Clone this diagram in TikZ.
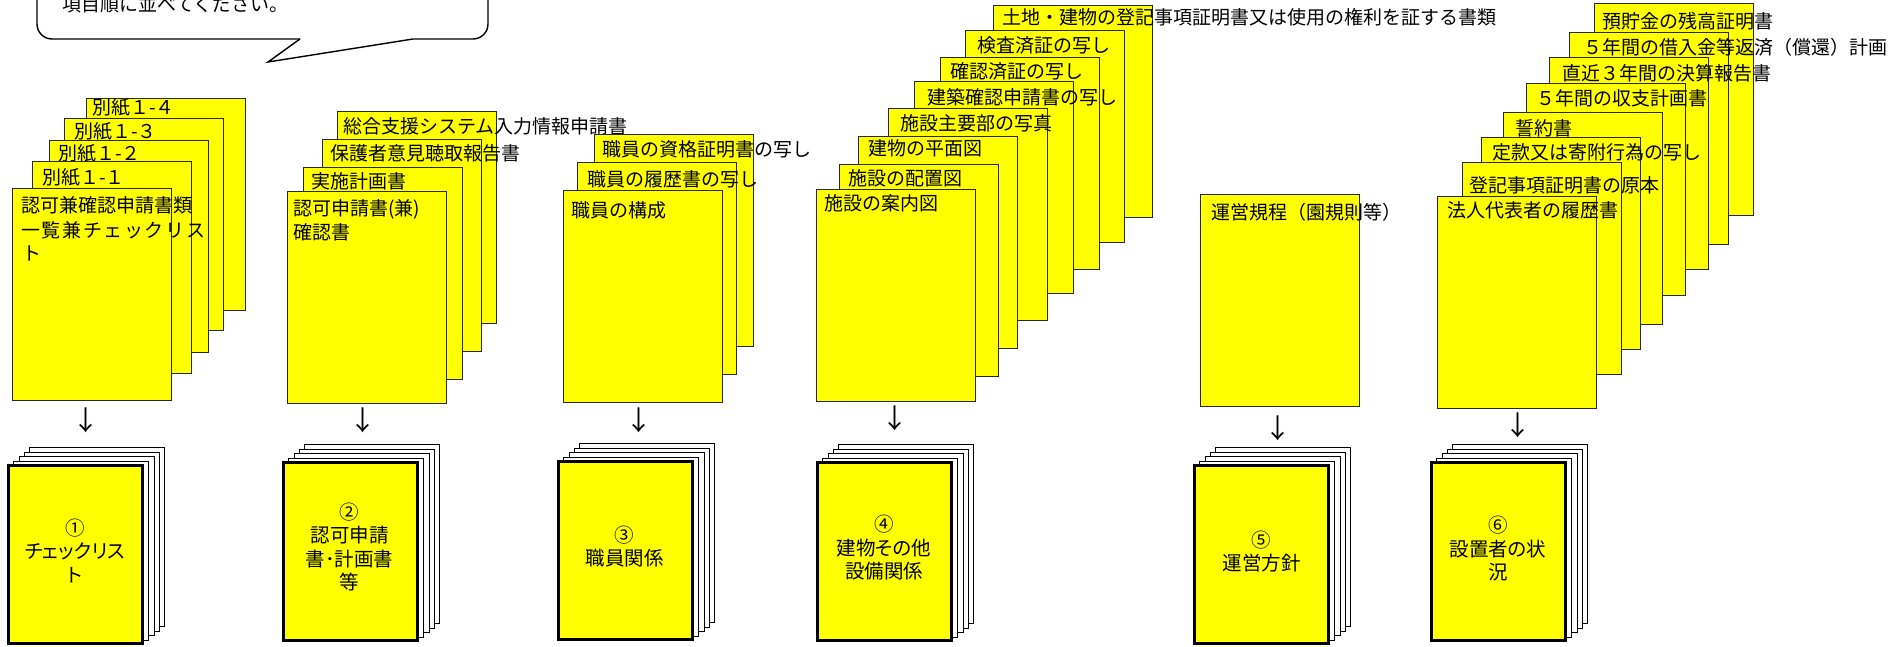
\documentclass[tikz,border=0pt]{standalone}
\usepackage{fontspec}
\newfontfamily\jp{Noto Sans CJK JP}
\newfontfamily\jpp{Noto Sans CJK JP}[RawFeature=+palt]
\definecolor{docyellow}{RGB}{255,255,0}
\definecolor{edgegray}{RGB}{40,40,40}
\newcommand\ydoc[6]{%
  \node[ybox] (#1) at (#2,#3) {};
  \node[lbl] (#1-t) at (#4,#5) {#6};}
\newcommand\stackdoc[6]{%
  \foreach \k in {4,3,2,1}{\node[backpage] (#1-p\k) at ({#2+5.3*\k},{#3-4.5*\k}) {};}
  \node[frontpage] (#1) at (#2,#3) {};
  \node[stacklbl] (#1-t) at (#4,#5) {#6};}
\begin{document}
\begin{tikzpicture}[x=1pt,y=-1pt,
  ybox/.style={draw=edgegray, fill=docyellow, line width=0.9pt, anchor=north west,
    minimum width=159pt, minimum height=212pt, inner sep=0pt, outer sep=0pt},
  lbl/.style={anchor=west, inner sep=0pt, font=\jp\fontsize{19}{23}\selectfont},
  backpage/.style={draw=black, fill=white, line width=0.9pt, anchor=north west,
    minimum width=135pt, minimum height=179pt, inner sep=0pt, outer sep=0pt},
  frontpage/.style={draw=black, fill=docyellow, line width=3pt, anchor=north west,
    minimum width=134pt, minimum height=178pt, inner sep=0pt, outer sep=0pt},
  stacklbl/.style={align=center, inner sep=0pt, font=\jpp\fontsize{19.5}{23.5}\selectfont},
  arr/.style={inner sep=0pt, font=\jp\fontsize{27}{27}\selectfont},
  bubble/.style={draw=black, line width=1.4pt}]
\useasboundingbox (0,0) rectangle (1895,647);

% speech bubble
\coordinate (tailL) at (300,39);
\coordinate (tailR) at (413,39);
\coordinate (tailTip) at (268,62);
\fill[white] (37,-60) rectangle (488,39);
\draw[bubble, rounded corners=15pt] (tailL) -- (37,39) -- (37,-60) -- (488,-60) -- (488,39) -- (tailR);
\draw[bubble, line join=miter] (tailL) -- (tailTip) -- (tailR);
\node[lbl, anchor=base west] (bubtext) at (62,11.5) {項目順に並べてください。};

% group 1
\ydoc{a4}{86}{98}{92}{107}{別紙１-４}
\ydoc{a3}{64}{118}{74}{131}{別紙１-３}
\ydoc{a2}{49}{140}{58}{153}{別紙１-２}
\ydoc{a1}{32}{161}{42}{177}{別紙１-１}
\node[ybox] (a0) at (12,188) {};
\node[lbl] (a0-t1) at (21,205) {認可兼確認申請書類};
\node[lbl] (a0-t2) at (21,230) {\hbox to 184pt{一\hfil 覧\hfil 兼\hfil チ\hfil ェ\hfil ッ\hfil ク\hfil リ\hfil ス}};
\node[lbl] (a0-t3) at (22,253) {ト};

% group 2
\ydoc{b3}{337}{111}{343}{126}{総合支援システム入力情報申請書}
\ydoc{b2}{322}{139}{330}{153}{保護者意見聴取報告書}
\ydoc{b1}{303}{167}{311}{181}{実施計画書}
\node[ybox] (b0) at (287,191) {};
\node[lbl] (b0-t1) at (293,209) {認可申請書(兼)};
\node[lbl] (b0-t2) at (293,232) {確認書};

% group 3
\ydoc{c2}{594}{134}{602}{149}{職員の資格証明書の写し}
\ydoc{c1}{577}{162}{587}{179}{職員の履歴書の写し}
\ydoc{c0}{563}{190}{571}{210}{職員の構成}

% group 4
\ydoc{d7}{993}{5}{1002}{17}{土地・建物の登記事項証明書又は使用の権利を証する書類}
\ydoc{d6}{965}{30}{977}{45}{検査済証の写し}
\ydoc{d5}{940}{57}{950}{71}{確認済証の写し}
\ydoc{d4}{914}{81}{927}{97}{建築確認申請書の写し}
\ydoc{d3}{888}{108}{900}{123}{施設主要部の写真}
\ydoc{d2}{858}{136}{868}{148}{建物の平面図}
\ydoc{d1}{839}{164}{848}{178}{施設の配置図}
\ydoc{d0}{816}{189}{824}{203}{施設の案内図}

% group 5
\ydoc{e0}{1200}{194}{1211}{212}{運営規程（園規則等）}

% group 6
\ydoc{f7}{1594}{3}{1602}{21}{預貯金の残高証明書}
\ydoc{f6}{1569}{32}{1583}{47}{５年間の借入金等返済（償還）計画}
\ydoc{f5}{1549}{57}{1562}{73}{直近３年間の決算報告書}
\ydoc{f4}{1526}{83}{1536}{98}{５年間の収支計画書}
\ydoc{f3}{1503}{112}{1515}{128}{誓約書}
\ydoc{f2}{1481}{137}{1492}{152}{定款又は寄附行為の写し}
\ydoc{f1}{1462}{162}{1469}{185}{登記事項証明書の原本}
\ydoc{f0}{1437}{196}{1447}{210}{法人代表者の履歴書}

% arrows
\node[arr] (arr1) at (86,420) {↓};
\node[arr] (arr2) at (363,420) {↓};
\node[arr] (arr3) at (639,420) {↓};
\node[arr] (arr4) at (895,418) {↓};
\node[arr] (arr5) at (1278,428) {↓};
\node[arr] (arr6) at (1518,425) {↓};

% lower stacks
\stackdoc{s1}{8.5}{465.5}{75}{551}{①\\チェックリス\\ト}
\stackdoc{s2}{283.5}{462.5}{349.5}{547}{②\\認可申請\\書･計画書\\等}
\stackdoc{s3}{558.5}{461.5}{624.5}{546.5}{③\\職員関係}
\stackdoc{s4}{817.5}{462.5}{884}{548}{④\\建物その他\\設備関係}
\stackdoc{s5}{1194.5}{465.5}{1261.5}{551.5}{⑤\\運営方針}
\stackdoc{s6}{1431.5}{462.5}{1498}{549}{⑥\\設置者の状\\況}
\end{tikzpicture}
\end{document}
